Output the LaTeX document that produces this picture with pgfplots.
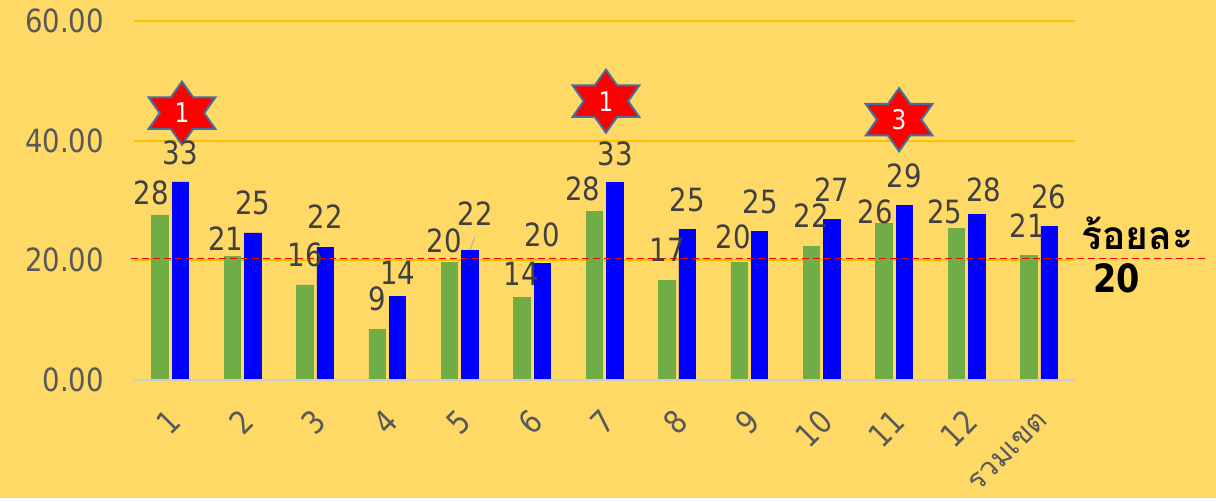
\documentclass[border=0pt]{standalone}
\usepackage{pgfplots}
\usepackage{pgfplotstable}
\usepackage{fontspec}
\pgfplotsset{compat=1.18}
\usetikzlibrary{shapes.geometric}
\setmainfont[FakeStretch=0.86]{DejaVu Sans}
\newfontfamily\thaifont[Script=Thai]{Loma}
\definecolor{bg}{HTML}{FFD966}
\definecolor{gridc}{HTML}{FFC000}
\definecolor{greenb}{HTML}{70AD47}
\definecolor{tickc}{HTML}{595959}
\definecolor{labc}{HTML}{404040}
\definecolor{starl}{HTML}{41719C}
\pgfplotstableread{
x g b
1 27.6 33.1
2 20.7 24.6
3 15.9 22.2
4 8.5 14.0
5 19.6 21.7
6 13.8 19.5
7 28.2 33.0
8 16.7 25.2
9 19.7 24.9
10 22.3 26.9
11 26.2 29.2
12 25.3 27.7
13 20.8 25.7
}\data
\pgfplotstableread{
x y t
0.735 31.3 28
1.136 38.0 33
1.771 23.6 21
2.144 29.6 25
2.863 20.9 16
3.139 27.3 22
3.857 13.5 9
4.147 17.9 14
4.783 23.2 20
5.211 27.8 22
5.847 17.7 14
6.137 24.2 20
6.703 31.9 28
7.146 37.8 33
7.864 21.7 17
8.140 30.1 25
8.776 23.9 20
9.149 29.8 25
9.853 27.4 22
10.140 31.9 27
10.740 28.1 26
11.140 34.1 29
11.700 28.1 25
12.240 31.8 28
12.840 25.8 21
13.140 30.6 26
}\labels
\tikzset{mystar/.style={star,star points=6,star point ratio=1.73,minimum size=31.5pt,inner sep=0pt,fill=red,draw=starl,line width=1pt,xscale=1.22},
startext/.style={text=white,font=\fontsize{13.5}{13.5}\selectfont,inner sep=0pt}}
\begin{document}
\begin{tikzpicture}[x=1pt,y=1pt]
\fill[bg] (0,0) rectangle (608,249);
\begin{axis}[
  at={(67pt,59pt)},anchor=south west,
  scale only axis,width=470.5pt,height=179.5pt,
  xmin=0.5,xmax=13.5,ymin=0,ymax=60,
  clip=false,
  axis line style={draw=none},
  axis x line*=bottom,
  axis y line*=left,
  ytick={0,20,40,60},
  yticklabels={0.00,20.00,40.00,60.00},
  xtick={1,...,13},
  xticklabels={1,2,3,4,5,6,7,8,9,10,11,12,{\fontsize{14.5}{14.5}\selectfont\thaifont รวมเขต}},
  major tick length=0pt,
  ymajorgrids,
  grid style={gridc,line width=1pt},
  tick label style={text=tickc,font=\fontsize{16}{16}\selectfont},
  yticklabel style={xshift=-11.5pt,yshift=0pt},
  xticklabel style={rotate=45,anchor=east,xshift=-7.6pt,yshift=-14.4pt},
  ybar,
  bar width=8.2pt,
  bar shift=0pt,
]
\addplot[draw=greenb,fill=greenb,line width=0.3pt,bar shift=-5.1pt] table[x=x,y=g]{\data};
\addplot[draw=blue,fill=blue,line width=0.3pt,bar shift=5.1pt] table[x=x,y=b]{\data};
\draw[draw=lightgray!80!white,line width=0.9pt] (axis cs:0.5,0) -- (axis cs:13.5,0);
\addplot[sharp plot,draw=red,dash pattern=on 3.5pt off 2pt,line width=0.7pt] coordinates {(0.46,20.35) (15.34,20.35)};
\addplot[sharp plot,draw=gray!60,line width=0.5pt] coordinates {(5.14,21.7) (5.21,23.9)};
\addplot[only marks,mark=none,draw=none,
  nodes near coords,point meta=explicit symbolic,
  nodes near coords style={anchor=center,text=labc,font=\fontsize{16}{16}\selectfont,inner sep=0pt}]
  table[x=x,y=y,meta=t]{\labels};
\node[mystar] at (axis cs:1.163,44.6) {};
\node[startext] at (axis cs:1.163,44.6) {1};
\node[mystar] at (axis cs:7.02,46.6) {};
\node[startext] at (axis cs:7.02,46.6) {1};
\node[mystar] at (axis cs:11.07,43.5) {};
\node[startext] at (axis cs:11.07,43.5) {3};
\node[font=\fontsize{19.5}{19.5}\selectfont\bfseries\thaifont,text=black,inner sep=0pt] at (axis cs:14.36,24.6) {ร้อยละ};
\node[font=\fontsize{19.5}{19.5}\selectfont\bfseries,text=black,inner sep=0pt] at (axis cs:14.08,17.0) {20};
\end{axis}
\end{tikzpicture}
\end{document}
